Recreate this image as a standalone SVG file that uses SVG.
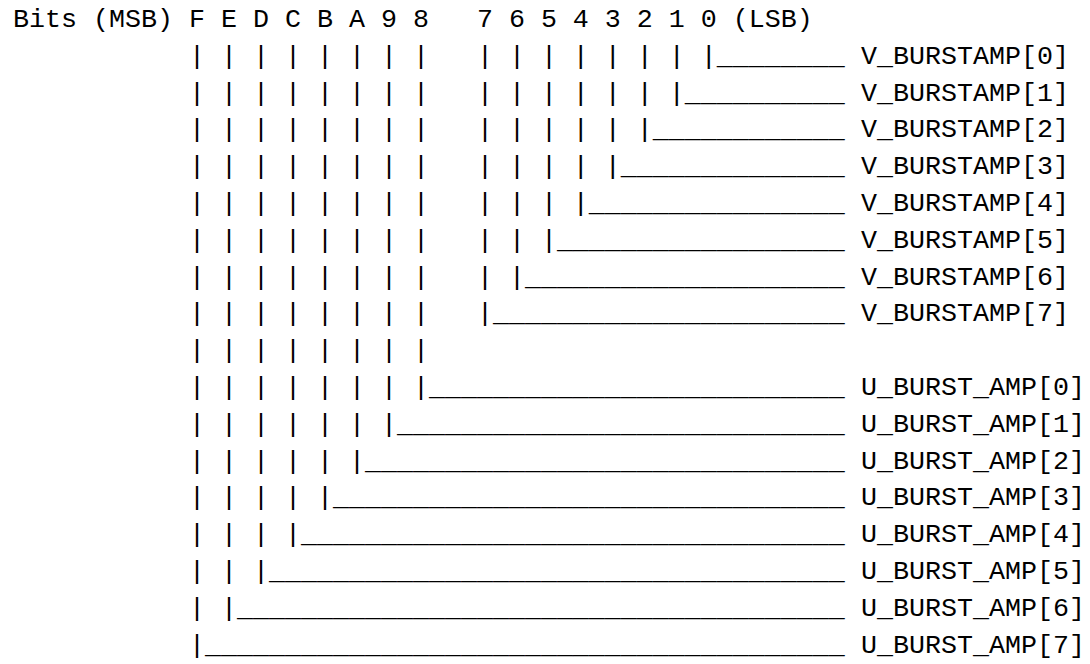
<svg xmlns="http://www.w3.org/2000/svg" width="1090" height="664" viewBox="0 0 1090 664" xml:space="preserve">
<style>
text { font-family: "Liberation Mono", "Courier New", monospace; font-size: 26.67px; fill: #000; white-space: pre; }
</style>
<rect x="0" y="0" width="1090" height="664" fill="#fff"/>
<g id="header">
<text x="13" y="27">Bits (MSB) F E D C B A 9 8   7 6 5 4 3 2 1 0 (LSB)</text>
</g>
<g id="connectors">
<text x="13" y="63.8">           | | | | | | | |   | | | | | | | |________</text>
<text x="13" y="100.6">           | | | | | | | |   | | | | | | |__________</text>
<text x="13" y="137.4">           | | | | | | | |   | | | | | |____________</text>
<text x="13" y="174.2">           | | | | | | | |   | | | | |______________</text>
<text x="13" y="211">           | | | | | | | |   | | | |________________</text>
<text x="13" y="247.8">           | | | | | | | |   | | |__________________</text>
<text x="13" y="284.6">           | | | | | | | |   | |____________________</text>
<text x="13" y="321.4">           | | | | | | | |   |______________________</text>
<text x="13" y="358.2">           | | | | | | | |</text>
<text x="13" y="395">           | | | | | | | |__________________________</text>
<text x="13" y="431.8">           | | | | | | |____________________________</text>
<text x="13" y="468.6">           | | | | | |______________________________</text>
<text x="13" y="505.4">           | | | | |________________________________</text>
<text x="13" y="542.2">           | | | |__________________________________</text>
<text x="13" y="579">           | | |____________________________________</text>
<text x="13" y="615.8">           | |______________________________________</text>
<text x="13" y="652.6">           |________________________________________</text>
</g>
<g id="node-V_BURSTAMP-0"><text x="861" y="63.8">V_BURSTAMP[0]</text></g>
<g id="node-V_BURSTAMP-1"><text x="861" y="100.6">V_BURSTAMP[1]</text></g>
<g id="node-V_BURSTAMP-2"><text x="861" y="137.4">V_BURSTAMP[2]</text></g>
<g id="node-V_BURSTAMP-3"><text x="861" y="174.2">V_BURSTAMP[3]</text></g>
<g id="node-V_BURSTAMP-4"><text x="861" y="211">V_BURSTAMP[4]</text></g>
<g id="node-V_BURSTAMP-5"><text x="861" y="247.8">V_BURSTAMP[5]</text></g>
<g id="node-V_BURSTAMP-6"><text x="861" y="284.6">V_BURSTAMP[6]</text></g>
<g id="node-V_BURSTAMP-7"><text x="861" y="321.4">V_BURSTAMP[7]</text></g>
<g id="node-U_BURST_AMP-0"><text x="861" y="395">U_BURST_AMP[0]</text></g>
<g id="node-U_BURST_AMP-1"><text x="861" y="431.8">U_BURST_AMP[1]</text></g>
<g id="node-U_BURST_AMP-2"><text x="861" y="468.6">U_BURST_AMP[2]</text></g>
<g id="node-U_BURST_AMP-3"><text x="861" y="505.4">U_BURST_AMP[3]</text></g>
<g id="node-U_BURST_AMP-4"><text x="861" y="542.2">U_BURST_AMP[4]</text></g>
<g id="node-U_BURST_AMP-5"><text x="861" y="579">U_BURST_AMP[5]</text></g>
<g id="node-U_BURST_AMP-6"><text x="861" y="615.8">U_BURST_AMP[6]</text></g>
<g id="node-U_BURST_AMP-7"><text x="861" y="652.6">U_BURST_AMP[7]</text></g>
</svg>
